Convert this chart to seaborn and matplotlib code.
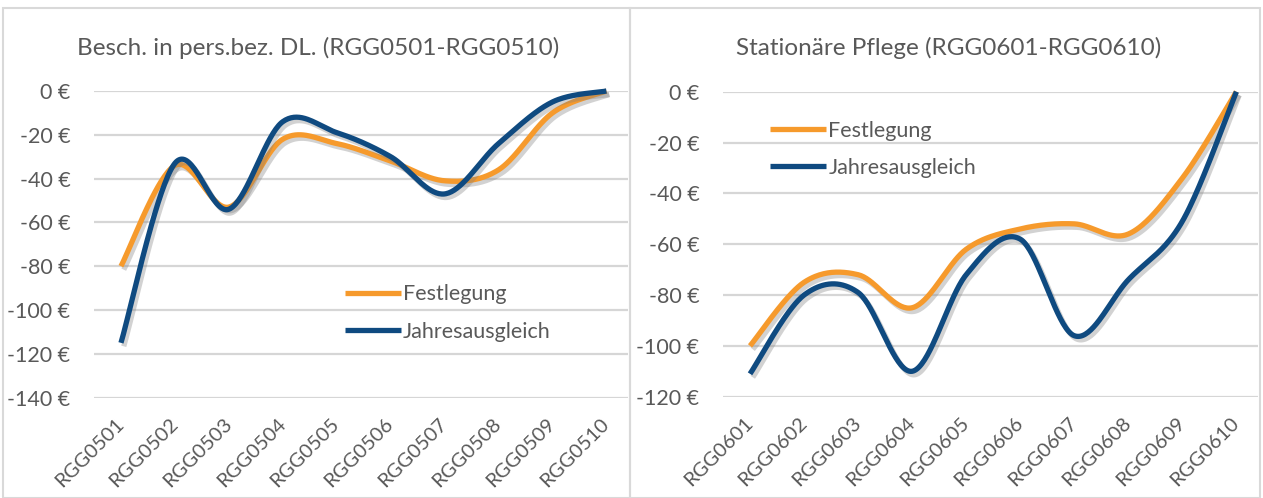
import numpy as np
import pandas as pd
import seaborn as sns
import matplotlib.pyplot as plt
import matplotlib.patheffects as pe
from matplotlib.patches import Rectangle
from matplotlib.ticker import FuncFormatter

# data
cats_05 = ["RGG0501", "RGG0502", "RGG0503", "RGG0504", "RGG0505",
           "RGG0506", "RGG0507", "RGG0508", "RGG0509", "RGG0510"]
fest_05 = [-80, -34, -53, -22, -24, -32, -41, -36, -10, 0]
jahr_05 = [-115, -33, -54, -14, -19, -30, -47, -24, -5, 0]

cats_06 = ["RGG0601", "RGG0602", "RGG0603", "RGG0604", "RGG0605",
           "RGG0606", "RGG0607", "RGG0608", "RGG0609", "RGG0610"]
fest_06 = [-100, -75, -72, -85, -62, -54, -52, -56, -34, 0]
jahr_06 = [-111, -80, -79, -110, -72, -58, -96, -74, -51, 0]

title_05 = "Besch. in pers.bez. DL. (RGG0501-RGG0510)"
title_06 = "Stationäre Pflege (RGG0601-RGG0610)"
series_names = ["Festlegung", "Jahresausgleich"]
colors = ["#F69A2C", "#0F4A80"]
text_col = "#595959"

sns.set_theme(style="white")
plt.rcParams["font.family"] = ["Lato", "DejaVu Sans"]
plt.rcParams["axes.unicode_minus"] = False


def smooth(y, n=40):
    # Excel-style smoothed line (bezier through the points)
    pts = np.column_stack([np.arange(len(y)), np.asarray(y, float)])
    out = []
    for i in range(len(pts) - 1):
        p0 = pts[max(i - 1, 0)]
        p1 = pts[i]
        p2 = pts[i + 1]
        p3 = pts[min(i + 2, len(pts) - 1)]
        c1 = p1 + (p2 - p0) / 6
        c2 = p2 - (p3 - p1) / 6
        t = np.linspace(0, 1, n)[:, None]
        seg = (1 - t) ** 3 * p1 + 3 * (1 - t) ** 2 * t * c1 + 3 * (1 - t) * t ** 2 * c2 + t ** 3 * p2
        out.append(seg if i == 0 else seg[1:])
    return np.vstack(out)


W, H = 1263, 498
fig = plt.figure(figsize=(W / 100, H / 100), dpi=100)

# panel frames
for x0, x1 in [(3, 630), (630, 1260)]:
    fig.add_artist(Rectangle((x0 / W, 0), (x1 - x0) / W, 1 - 8 / H,
                             transform=fig.transFigure, fill=False,
                             edgecolor="#D9D9D9", lw=1.5))


def px_axes(left, top, right, bottom):
    return fig.add_axes([left / W, 1 - bottom / H, (right - left) / W, (bottom - top) / H])


panels = [
    (px_axes(94, 91, 628, 397.6), cats_05, [fest_05, jahr_05], title_05, 318,
     (-140, 0), (0.454, 0.397)),
    (px_axes(723, 91.7, 1258, 396.7), cats_06, [fest_06, jahr_06], title_06, 949,
     (-120, 0), (0.072, 0.933)),
]

shadow = [pe.SimpleLineShadow(offset=(2, -2.5), shadow_color="#808080", alpha=0.35),
          pe.Normal()]

for ax, cats, vals, title, tx, ylim, legpos in panels:
    for name, v, c in zip(series_names, vals, colors):
        s = smooth(v)
        df = pd.DataFrame({"x": s[:, 0], "y": s[:, 1]})
        sns.lineplot(data=df, x="x", y="y", ax=ax, color=c, lw=3.8, sort=False,
                     estimator=None, label=name, path_effects=shadow,
                     solid_capstyle="butt", clip_on=False)
    ax.set_xlim(-0.5, 9.4)
    ax.set_ylim(*ylim)
    ax.set_yticks(np.arange(ylim[0], 1, 20))
    ax.yaxis.set_major_formatter(FuncFormatter(lambda v, p: f"{int(v)} €"))
    ax.set_xticks(range(len(cats)))
    ax.set_xticklabels(cats, rotation=45, ha="right", va="center", rotation_mode="anchor")
    ax.tick_params(axis="both", length=0, colors=text_col)
    ax.tick_params(axis="y", pad=17, labelsize=15.5)
    ax.tick_params(axis="x", pad=17, labelsize=14.5)
    ax.grid(axis="y", color="#D6D6D6", lw=1.6)
    ax.set_axisbelow(True)
    for sp in ax.spines.values():
        sp.set_visible(False)
    ax.set_xlabel("")
    ax.set_ylabel("")
    leg = ax.legend(loc="upper left", bbox_to_anchor=legpos, frameon=False,
                    fontsize=15.5, handlelength=2.6, handletextpad=0.1,
                    labelspacing=0.8, borderaxespad=0)
    for t in leg.get_texts():
        t.set_color(text_col)
    for h in leg.get_lines():
        h.set_linewidth(3.8)
        h.set_path_effects([])
    fig.text(tx / W, 1 - 48 / H, title, ha="center", va="center",
             fontsize=17.5, color=text_col)

fig.savefig("out.png", dpi=100, facecolor="white")
